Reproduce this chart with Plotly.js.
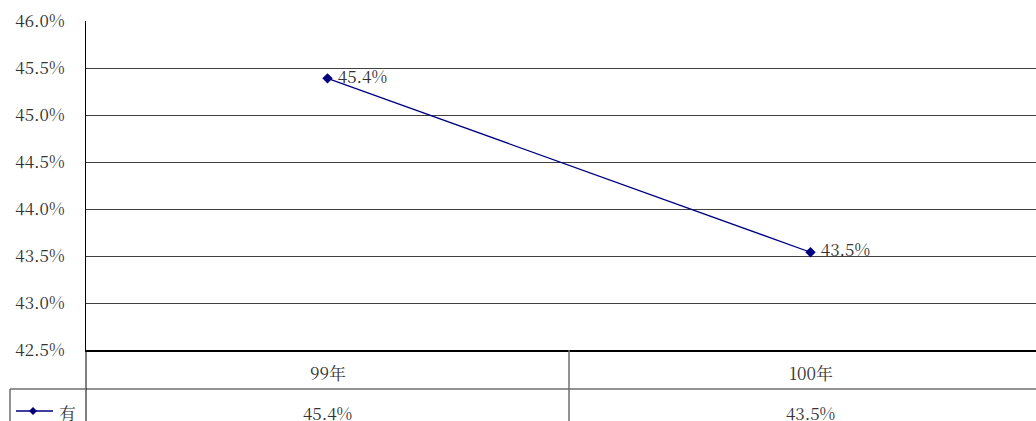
<!DOCTYPE html>
<html>
<head>
<meta charset="utf-8">
<script src="https://cdn.plot.ly/plotly-3.0.1.min.js"></script>
<style>
html,body{margin:0;padding:0;overflow:hidden;background:#fff;}
#chart{width:1060px;height:421px;}
</style>
</head>
<body>
<div id="chart"></div>
<script>
const categories = ["99年", "100年"];
const seriesName = "有";
const values = [45.39, 43.54];
const valueLabels = ["45.4%", "43.5%"];
const yTickVals = [42.5, 43.0, 43.5, 44.0, 44.5, 45.0, 45.5, 46.0];
const yTickText = ["42.5%", "43.0%", "43.5%", "44.0%", "44.5%", "45.0%", "45.5%", "46.0%"];

const FONT = "Noto Serif CJK TC";
const FS = 17;
const TXT = '#333333';
const NAVY = '#000080';

const L = 86, R = 1052, T = 21, B = 350;
const W = R - L, H = B - T;
const px = x => (x - L) / W;
const py = y => (B - y) / H;

const trace = {
  x: [0, 1],
  y: values,
  type: 'scatter',
  mode: 'lines+markers+text',
  name: seriesName,
  text: valueLabels,
  texttemplate: '\u00a0%{text}',
  textposition: 'middle right',
  textfont: {family: FONT, size: FS, color: TXT},
  line: {color: NAVY, width: 1.3},
  marker: {symbol: 'diamond', size: 8, color: NAVY},
  cliponaxis: false,
  hoverinfo: 'skip'
};

const shapes = [];
const lineStyle = {color: '#000000', width: 1};
const grayStyle = {color: '#6e6e6e', width: 1.5};
shapes.push({type:'line', xref:'paper', yref:'paper', x0:px(L), x1:1, y0:py(389), y1:py(389), line:grayStyle});
shapes.push({type:'line', xref:'x', yref:'paper', x0:0.5, x1:0.5, y0:py(350), y1:py(421), line:grayStyle});
shapes.push({type:'line', xref:'paper', yref:'paper', x0:0, x1:0, y0:0, y1:py(421), line:lineStyle});
shapes.push({type:'line', xref:'paper', yref:'paper', x0:px(10), x1:px(L), y0:py(389), y1:py(389), line:grayStyle});
shapes.push({type:'line', xref:'paper', yref:'paper', x0:px(10), x1:px(10), y0:py(389), y1:py(421), line:grayStyle});
shapes.push({type:'line', xref:'paper', yref:'paper', x0:px(16), x1:px(53), y0:py(411), y1:py(411), line:{color:NAVY, width:1.3}});
shapes.push({type:'path', xref:'paper', yref:'paper',
  path: `M ${px(29)} ${py(411)} L ${px(33)} ${py(407)} L ${px(37)} ${py(411)} L ${px(33)} ${py(415)} Z`,
  fillcolor: NAVY, line:{color:NAVY, width:0}});

const annotations = [];
categories.forEach((c, i) => {
  annotations.push({x: i, xref:'x', y: py(372), yref:'paper', text: c, showarrow:false,
    font:{family:FONT, size:FS, color:TXT}, xanchor:'center', yanchor:'middle'});
  annotations.push({x: i, xref:'x', y: py(412), yref:'paper', text: valueLabels[i], showarrow:false,
    font:{family:FONT, size:FS, color:TXT}, xanchor:'center', yanchor:'middle'});
});
annotations.push({x: px(57), xref:'paper', y: py(412), yref:'paper', text: seriesName, showarrow:false,
  font:{family:FONT, size:FS, color:TXT}, xanchor:'left', yanchor:'middle'});

const layout = {
  width: 1060, height: 421,
  margin: {l: L, r: 1060 - R, t: T, b: 421 - B},
  paper_bgcolor: '#ffffff', plot_bgcolor: '#ffffff',
  font: {family: FONT, size: FS, color: TXT},
  showlegend: false,
  xaxis: {range: [-0.5, 1.5], showticklabels: false, showgrid: false, zeroline: false,
    showline: true, linecolor: '#000000', linewidth: 1.5, mirror: false, fixedrange: true},
  yaxis: {range: [42.5, 46.0], tickvals: yTickVals, ticktext: yTickText,
    tickfont: {family: FONT, size: FS, color: TXT}, ticks: '',
    showgrid: true, gridcolor: '#404040', gridwidth: 1, zeroline: false,
    showline: true, linecolor: '#000000', linewidth: 1, ticklabelstandoff: 17, fixedrange: true},
  shapes: shapes,
  annotations: annotations
};

Plotly.newPlot('chart', [trace], layout, {displayModeBar: false, staticPlot: true});
</script>
</body>
</html>
